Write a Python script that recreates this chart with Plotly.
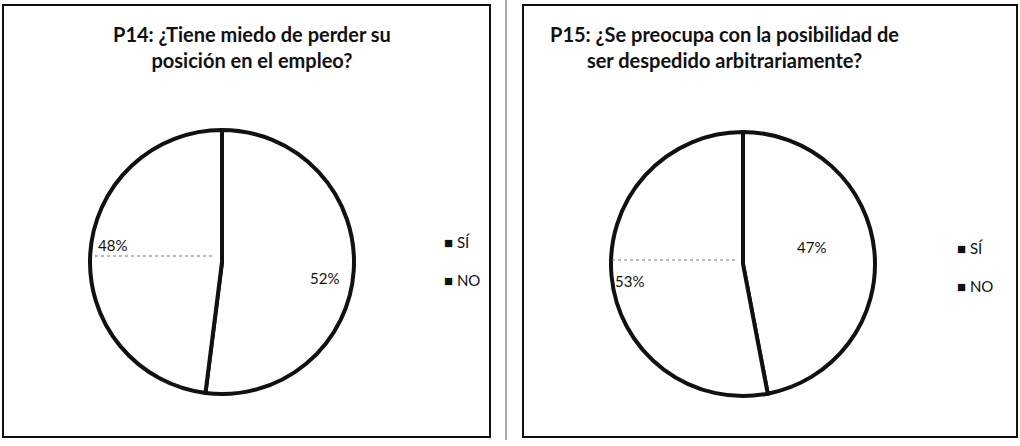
import math

import plotly.graph_objects as go

W, H = 1020, 446

LABELS = ["SÍ", "NO"]
P14_VALUES = [52, 48]
P15_VALUES = [47, 53]

P14_TITLE = "P14: ¿Tiene miedo de perder su<br>posición en el empleo?"
P15_TITLE = "P15: ¿Se preocupa con la posibilidad de<br>ser despedido arbitrariamente?"

FONT = "Lato, Open Sans, Arial"
INK = "#111111"
RADIUS = 132

# centre x/y, label distance factor + vertical nudge per slice, title x, legend x/y (pixels)
PANELS = [
    (P14_VALUES, P14_TITLE, 222, 262, [(0.78, 10), (0.83, -10)], 252, 442, 242),
    (P15_VALUES, P15_TITLE, 743, 264, [(0.525, -10), (0.86, 6)], 724, 955, 248),
]


def px_x(x):
    return x / W


def px_y(y):
    return 1 - y / H


def pie_domain(cx, cy, r):
    return {
        "x": [px_x(cx - r), px_x(cx + r)],
        "y": [px_y(cy + r), px_y(cy - r)],
    }


fig = go.Figure()
annotations = []

for values, title, cx, cy, label_pos, tx, lx, ly in PANELS:
    fig.add_trace(
        go.Pie(
            labels=LABELS,
            values=values,
            sort=False,
            direction="clockwise",
            rotation=0,
            domain=pie_domain(cx, cy, RADIUS),
            marker={"colors": ["white", "white"], "line": {"color": INK, "width": 4}},
            textinfo="none",
            hoverinfo="label+value",
            showlegend=False,
        )
    )

    # percentage labels placed along each slice bisector
    total = sum(values)
    start = 0.0
    for v, (k, nudge) in zip(values, label_pos):
        mid = (start + v / 2) / total * 2 * math.pi
        start += v
        annotations.append(
            {
                "text": f"{v}%",
                "xref": "paper",
                "yref": "paper",
                "x": px_x(cx + k * RADIUS * math.sin(mid)),
                "y": px_y(cy - k * RADIUS * math.cos(mid) + nudge),
                "xanchor": "center",
                "yanchor": "middle",
                "showarrow": False,
                "font": {"size": 15, "color": INK, "family": FONT},
            }
        )

    annotations.append(
        {
            "text": f"<b>{title}</b>",
            "xref": "paper",
            "yref": "paper",
            "x": px_x(tx),
            "y": px_y(47),
            "xanchor": "center",
            "yanchor": "middle",
            "showarrow": False,
            "font": {"size": 20, "color": INK, "family": FONT},
            "align": "center",
        }
    )

    for i, label in enumerate(LABELS):
        annotations.append(
            {
                "text": f"■ {label}",
                "xref": "paper",
                "yref": "paper",
                "x": px_x(lx),
                "y": px_y(ly + 38 * i),
                "xanchor": "left",
                "showarrow": False,
                "font": {"size": 15, "color": INK, "family": FONT},
            }
        )

# panel frames
shapes = []
for x0, x1 in [(3, 490), (523, 1017)]:
    shapes.append(
        {
            "type": "rect",
            "xref": "paper",
            "yref": "paper",
            "x0": px_x(x0),
            "x1": px_x(x1),
            "y0": px_y(437),
            "y1": px_y(5),
            "line": {"color": INK, "width": 2},
        }
    )
shapes.append(
    {
        "type": "line",
        "xref": "paper",
        "yref": "paper",
        "x0": px_x(506),
        "x1": px_x(506),
        "y0": px_y(440),
        "y1": px_y(0),
        "line": {"color": "#555555", "width": 1},
    }
)
# scan artefacts of the hatched fills
for x0, x1, y in [(95, 212, 256), (612, 738, 260)]:
    shapes.append(
        {
            "type": "line",
            "xref": "paper",
            "yref": "paper",
            "x0": px_x(x0),
            "x1": px_x(x1),
            "y0": px_y(y),
            "y1": px_y(y),
            "line": {"color": "#777777", "width": 1, "dash": "dot"},
        }
    )

fig.update_layout(
    width=W,
    height=H,
    margin={"l": 0, "r": 0, "t": 0, "b": 0},
    paper_bgcolor="white",
    plot_bgcolor="white",
    shapes=shapes,
    annotations=annotations,
    showlegend=False,
)

fig.write_html(
    "out.html",
    config={"displayModeBar": False},
    post_script="document.body.style.margin = '0';",
)
